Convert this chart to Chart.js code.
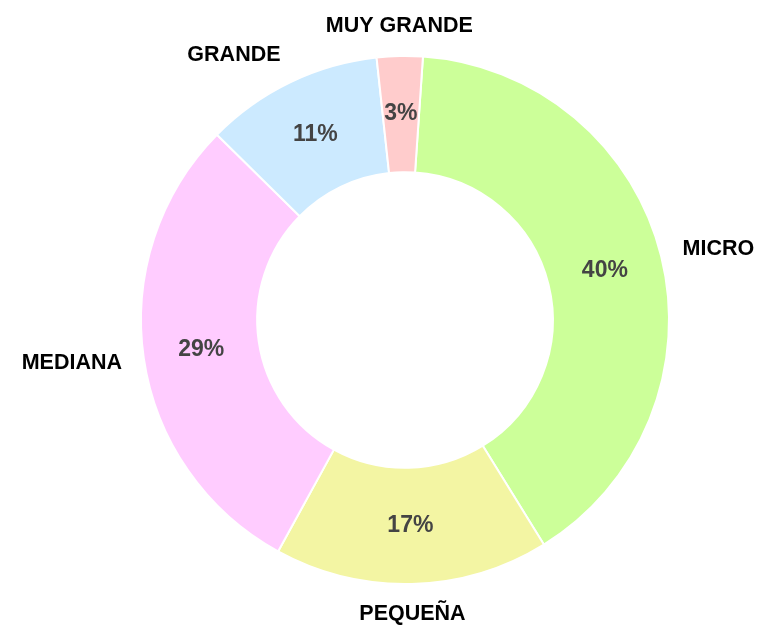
<!DOCTYPE html>
<html>
<head>
<meta charset="utf-8">
<script src="https://cdn.jsdelivr.net/npm/chart.js@4.4.1/dist/chart.umd.min.js"></script>
<style>
  html, body { margin: 0; padding: 0; background: #fff; }
  #wrap { width: 769px; height: 631px; }
</style>
</head>
<body>
<div id="wrap"><canvas id="grafico"></canvas></div>
<script>
const categorias = ['MICRO', 'PEQUEÑA', 'MEDIANA', 'GRANDE', 'MUY GRANDE'];
const valores = [40.1, 16.8, 29.4, 10.9, 2.8];
const colores = ['#ccff99', '#f3f5a3', '#ffccff', '#cceaff', '#ffcccc'];

// etiquetas: porcentaje dentro del anillo y nombre fuera
const etiquetas = {
  id: 'etiquetas',
  afterDatasetsDraw(chart) {
    const ctx = chart.ctx;
    const meta = chart.getDatasetMeta(0);
    const total = valores.reduce((a, b) => a + b, 0);
    meta.data.forEach((arc, i) => {
      const p = arc.getProps(['x', 'y', 'startAngle', 'endAngle', 'innerRadius', 'outerRadius'], true);
      const mid = (p.startAngle + p.endAngle) / 2;
      const dx = Math.cos(mid), dy = Math.sin(mid);
      const rMid = (p.innerRadius + p.outerRadius) / 2;

      ctx.save();
      ctx.textAlign = 'center';
      ctx.textBaseline = 'middle';
      ctx.font = 'bold 23px "Liberation Sans", Arial, sans-serif';
      ctx.fillStyle = '#444444';
      ctx.fillText(Math.round(valores[i] / total * 100) + '%', p.x + dx * rMid, p.y + dy * rMid);

      // nombre de la categoria, por fuera del anillo
      ctx.font = 'bold 21.5px "Liberation Sans", Arial, sans-serif';
      ctx.fillStyle = '#000000';
      const w = ctx.measureText(categorias[i]).width;
      const h = 16;
      const r = p.outerRadius + 22;
      let cx = p.x + dx * r;
      if (Math.abs(dx) > 0.2) cx += Math.sign(dx) * w / 2; // a un lado
      const cy = p.y + dy * r + dy * h / 2;
      ctx.fillText(categorias[i], cx, cy);
      ctx.restore();
    });
  }
};

new Chart(document.getElementById('grafico'), {
  type: 'doughnut',
  data: {
    labels: categorias,
    datasets: [{
      data: valores,
      backgroundColor: colores,
      borderColor: '#ffffff',
      borderWidth: 2
    }]
  },
  options: {
    responsive: true,
    maintainAspectRatio: false,
    animation: false,
    rotation: 3.9,
    cutout: '56%',
    layout: { padding: { top: 55, bottom: 46, left: 140, right: 99 } },
    plugins: {
      legend: { display: false },
      tooltip: { enabled: false }
    }
  },
  plugins: [etiquetas]
});
</script>
</body>
</html>
